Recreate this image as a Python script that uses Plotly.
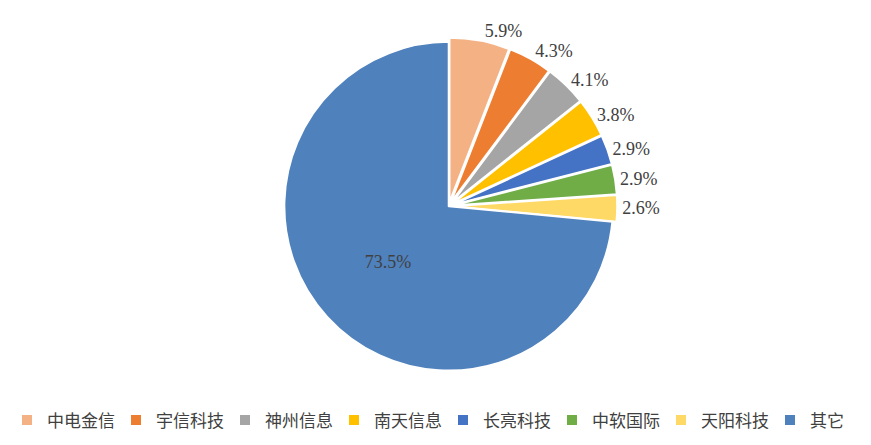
import plotly.graph_objects as go

# 市场份额
companies = ["中电金信", "宇信科技", "神州信息", "南天信息", "长亮科技", "中软国际", "天阳科技", "其它"]
shares = [5.9, 4.3, 4.1, 3.8, 2.9, 2.9, 2.6, 73.5]
share_labels = ["5.9%", "4.3%", "4.1%", "3.8%", "2.9%", "2.9%", "2.6%", "73.5%"]

colors = ["#F4B183", "#ED7D31", "#A5A5A5", "#FFC000", "#4472C4", "#70AD47", "#FFD966", "#4F81BD"]

fig = go.Figure()
fig.add_trace(go.Pie(
    labels=companies,
    values=shares,
    text=share_labels,
    textinfo="text",
    textposition=["outside"] * 7 + ["inside"],
    insidetextorientation="horizontal",
    sort=False,
    direction="clockwise",
    rotation=0,
    pull=[0.025] * 7 + [0],
    marker=dict(colors=colors, line=dict(color="white", width=2)),
    textfont=dict(family="Liberation Serif", size=18, color="#404040"),
    domain=dict(x=[0.2, 0.812], y=[0.1775, 0.9416]),
    hoverinfo="label+text",
))

fig.update_layout(
    width=871,
    height=445,
    margin=dict(l=0, r=0, t=0, b=0),
    paper_bgcolor="white",
    showlegend=True,
    legend=dict(
        orientation="h",
        x=0.49,
        xanchor="center",
        y=0.074,
        yanchor="middle",
        font=dict(family="Noto Sans CJK SC", size=17, color="#404040"),
        itemwidth=30,
        entrywidth=64,
        traceorder="normal",
    ),
)

fig.write_html("out.html")
